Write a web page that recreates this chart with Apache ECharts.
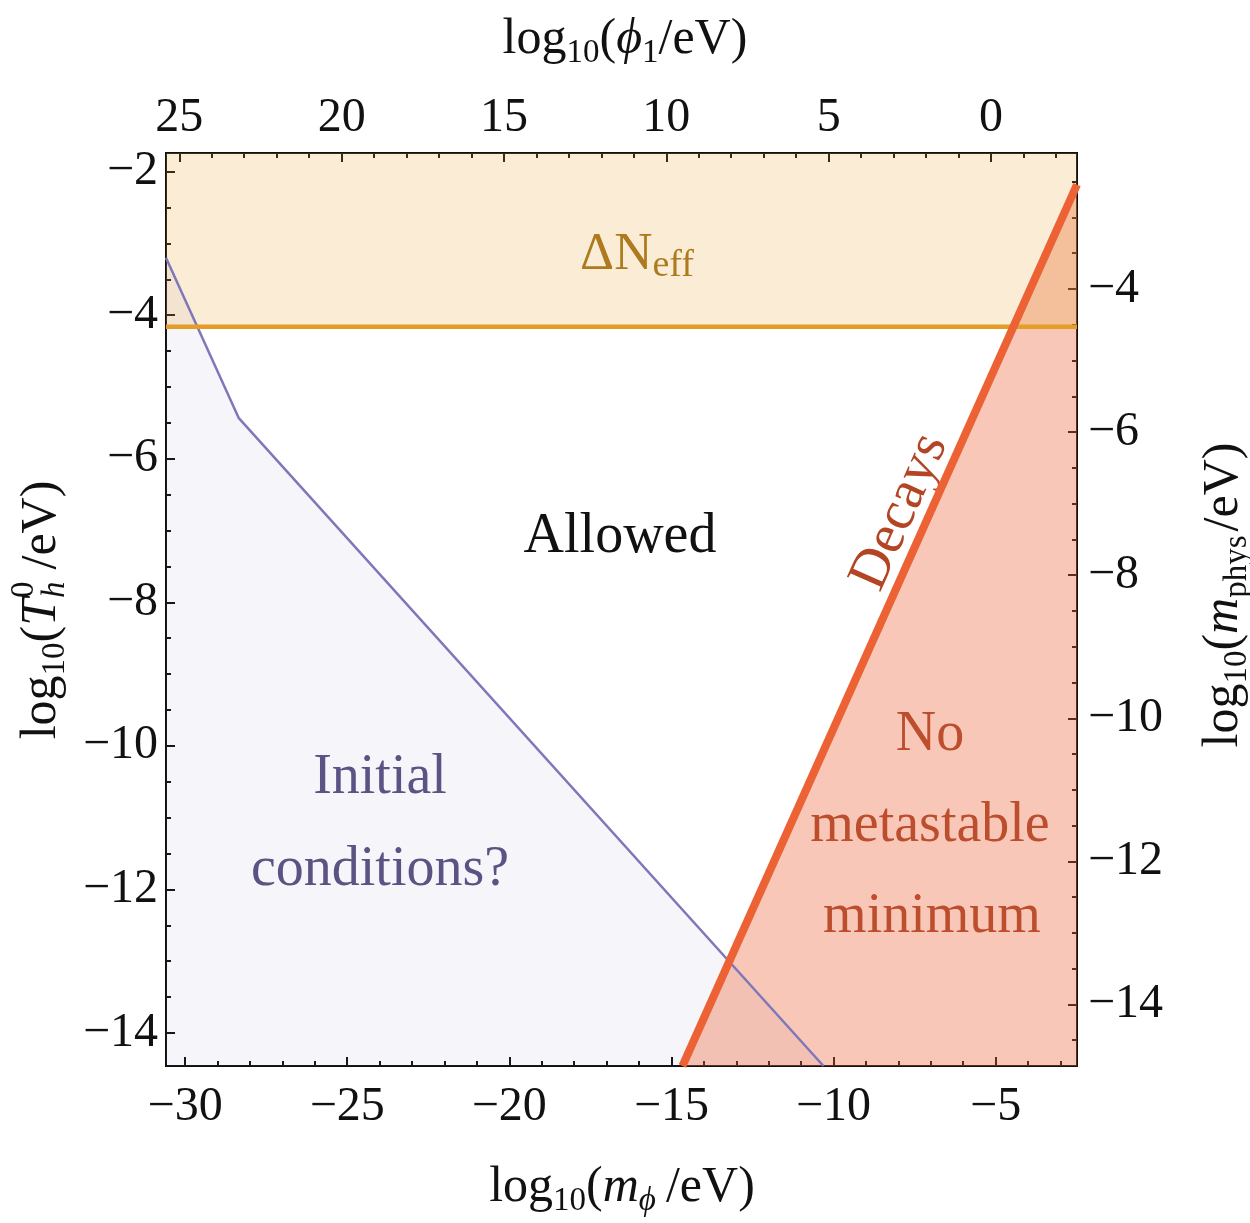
<!DOCTYPE html>
<html>
<head>
<meta charset="utf-8">
<script src="https://cdn.jsdelivr.net/npm/echarts@6/dist/echarts.min.js"></script>
<style>
  html, body { margin: 0; padding: 0; background: #fff; }
  #chart { width: 1250px; height: 1223px; }
</style>
</head>
<body>
<div id="chart"></div>
<script>
// axis ranges
var xMin = -30.59, xMax = -2.49;      // log10(m_phi/eV), bottom
var yMin = -14.46, yMax = -1.74;      // log10(T_h^0/eV), left
var topMin = -2.65, topMax = 25.41;   // log10(phi_1/eV), top (reversed)
var rightMin = -14.86, rightMax = -2.1; // log10(m_phys/eV), right

var bottomTicks = [-30, -25, -20, -15, -10, -5];
var topTicks = [25, 20, 15, 10, 5, 0];
var leftTicks = [-14, -12, -10, -8, -6, -4, -2];
var rightTicks = [-14, -12, -10, -8, -6, -4];

// region boundaries
var initialBoundary = [[-30.59, -3.2], [-28.35, -5.43], [-10.31, -14.46]];
var decayBoundary = [[-14.66, -14.46], [-2.49, -2.18]];
var neffLimit = -4.16;

var FONT = '"Liberation Serif", "DejaVu Serif", serif';

function minorList(a, b, step) {
    var out = [];
    for (var v = Math.ceil(a / step) * step; v <= b + 1e-9; v += step) out.push(+v.toFixed(3));
    return out;
}

function fmt(v) {
    return v < 0 ? '\u2212' + Math.abs(v) : String(v);
}

var ctx = document.createElement('canvas').getContext('2d');
function measure(t, font) {
    ctx.font = font;
    return ctx.measureText(t).width;
}

// builds a line of math-ish text from pieces (sub/superscripts)
function mathText(parts, cx, cy, rotation, color) {
    var x = 0, pending = 0, children = [];
    parts.forEach(function (p) {
        var style = (p.italic ? 'italic ' : '') + p.size + 'px ' + FONT;
        var w = measure(p.t, style);
        children.push({
            type: 'text', x: x, y: p.dy || 0,
            style: {
                text: p.t, fontSize: p.size, fontFamily: FONT,
                fontStyle: p.italic ? 'italic' : 'normal',
                fill: color, align: 'left', verticalAlign: 'middle'
            }
        });
        if (p.stack) {
            pending = Math.max(pending, w);
        } else {
            x += Math.max(w, pending) + (p.gap || 0);
            pending = 0;
        }
    });
    children.forEach(function (c) { c.x -= x / 2; });
    return { type: 'group', x: cx, y: cy, rotation: rotation || 0, children: children, silent: true };
}

function simpleText(t, cx, cy, size, color, rotation) {
    return {
        type: 'text', x: cx, y: cy, rotation: rotation || 0, silent: true,
        style: { text: t, fontSize: size, fontFamily: FONT, fill: color, align: 'center', verticalAlign: 'middle' }
    };
}

function valueAxis(extra) {
    var base = {
        type: 'value',
        splitLine: { show: false },
        axisLine: { show: true, onZero: false, lineStyle: { color: '#111', width: 2 } },
        axisTick: { show: true, inside: true, length: 9, lineStyle: { color: '#111', width: 2 } },
        axisLabel: { show: true, color: '#111', fontSize: 48, fontFamily: FONT, formatter: fmt }
    };
    return echarts.util.merge(base, extra, true);
}

var chart = echarts.init(document.getElementById('chart'));

var option = {
    animation: false,
    grid: { left: 166, top: 153, width: 911, height: 913, containLabel: false },
    xAxis: [
        valueAxis({ position: 'bottom', min: xMin, max: xMax,
            axisLabel: { margin: 17, customValues: bottomTicks },
            axisTick: { customValues: bottomTicks } }),
        valueAxis({ position: 'bottom', min: xMin, max: xMax,
            axisLabel: { show: false }, axisTick: { length: 5, customValues: minorList(xMin, xMax, 1) } }),
        valueAxis({ position: 'top', inverse: true, min: topMin, max: topMax,
            axisLabel: { margin: 11, customValues: topTicks },
            axisTick: { customValues: topTicks } }),
        valueAxis({ position: 'top', inverse: true, min: topMin, max: topMax,
            axisLabel: { show: false }, axisTick: { length: 5, customValues: minorList(topMin, topMax, 1) } })
    ],
    yAxis: [
        valueAxis({ position: 'left', min: yMin, max: yMax,
            axisLabel: { margin: 8, customValues: leftTicks },
            axisTick: { customValues: leftTicks } }),
        valueAxis({ position: 'left', min: yMin, max: yMax,
            axisLabel: { show: false }, axisTick: { length: 5, customValues: minorList(yMin, yMax, 0.5) } }),
        valueAxis({ position: 'right', min: rightMin, max: rightMax,
            axisLabel: { margin: 11, customValues: rightTicks },
            axisTick: { customValues: rightTicks } }),
        valueAxis({ position: 'right', min: rightMin, max: rightMax,
            axisLabel: { show: false }, axisTick: { length: 5, customValues: minorList(rightMin, rightMax, 0.5) } })
    ],
    series: [
        {
            name: 'initial', type: 'line', xAxisIndex: 0, yAxisIndex: 0,
            data: initialBoundary, showSymbol: false, silent: true,
            lineStyle: { color: '#7f77b9', width: 2.5 },
            areaStyle: { origin: 'start', color: 'rgba(127,118,184,0.1)' }
        },
        {
            name: 'decayFill', type: 'line', xAxisIndex: 0, yAxisIndex: 0,
            data: decayBoundary, showSymbol: false, silent: true,
            lineStyle: { width: 0 },
            areaStyle: { origin: 'start', color: 'rgba(236,96,52,0.5)' }
        },
        {
            name: 'neff', type: 'line', xAxisIndex: 0, yAxisIndex: 0,
            data: [[xMin, neffLimit], [xMax, neffLimit]], showSymbol: false, silent: true,
            lineStyle: { color: '#e49e27', width: 4.5 },
            areaStyle: { origin: 'end', color: 'rgba(229,160,42,0.28)' }
        },
        {
            name: 'decayLine', type: 'line', xAxisIndex: 0, yAxisIndex: 0,
            data: decayBoundary, showSymbol: false, silent: true,
            lineStyle: { color: '#ec6235', width: 8 }
        }
    ],
    graphic: [
        mathText([
            { t: 'log', size: 50 }, { t: '10', size: 33, dy: 13 },
            { t: '(', size: 50 }, { t: '\u03d5', size: 50, italic: true },
            { t: '1', size: 33, dy: 13 }, { t: '/eV)', size: 50 }
        ], 625, 40, 0, '#111'),
        mathText([
            { t: 'log', size: 50 }, { t: '10', size: 33, dy: 13 },
            { t: '(', size: 50 }, { t: 'm', size: 50, italic: true },
            { t: '\u03d5', size: 33, dy: 13, italic: true, gap: 10 }, { t: '/eV)', size: 50 }
        ], 622, 1188, 0, '#111'),
        mathText([
            { t: 'log', size: 50 }, { t: '10', size: 33, dy: 13 },
            { t: '(', size: 50 }, { t: 'T', size: 50, italic: true },
            { t: '0', size: 33, dy: -18, stack: true }, { t: 'h', size: 33, dy: 13, italic: true, gap: 12 },
            { t: '/eV)', size: 50 }
        ], 42, 610, Math.PI / 2, '#111'),
        mathText([
            { t: 'log', size: 50 }, { t: '10', size: 33, dy: 13 },
            { t: '(', size: 50 }, { t: 'm', size: 50, italic: true },
            { t: 'phys', size: 33, dy: 13, gap: 4 }, { t: '/eV)', size: 50 }
        ], 1224, 595, Math.PI / 2, '#111'),
        mathText([
            { t: '\u0394N', size: 53 }, { t: 'eff', size: 38, dy: 11 }
        ], 637, 255, 0, '#a0721d'),
        simpleText('Allowed', 620, 537, 56, '#111'),
        simpleText('Initial', 380, 778, 56, '#58517f'),
        simpleText('conditions?', 380, 870, 56, '#58517f'),
        simpleText('No', 930, 735, 56, '#a2452b'),
        simpleText('metastable', 930, 826, 56, '#a2452b'),
        simpleText('minimum', 932, 917, 56, '#a2452b'),
        simpleText('Decays', 900, 512, 56, '#b34524', 65.9 * Math.PI / 180)
    ]
};

chart.setOption(option);
</script>
</body>
</html>
